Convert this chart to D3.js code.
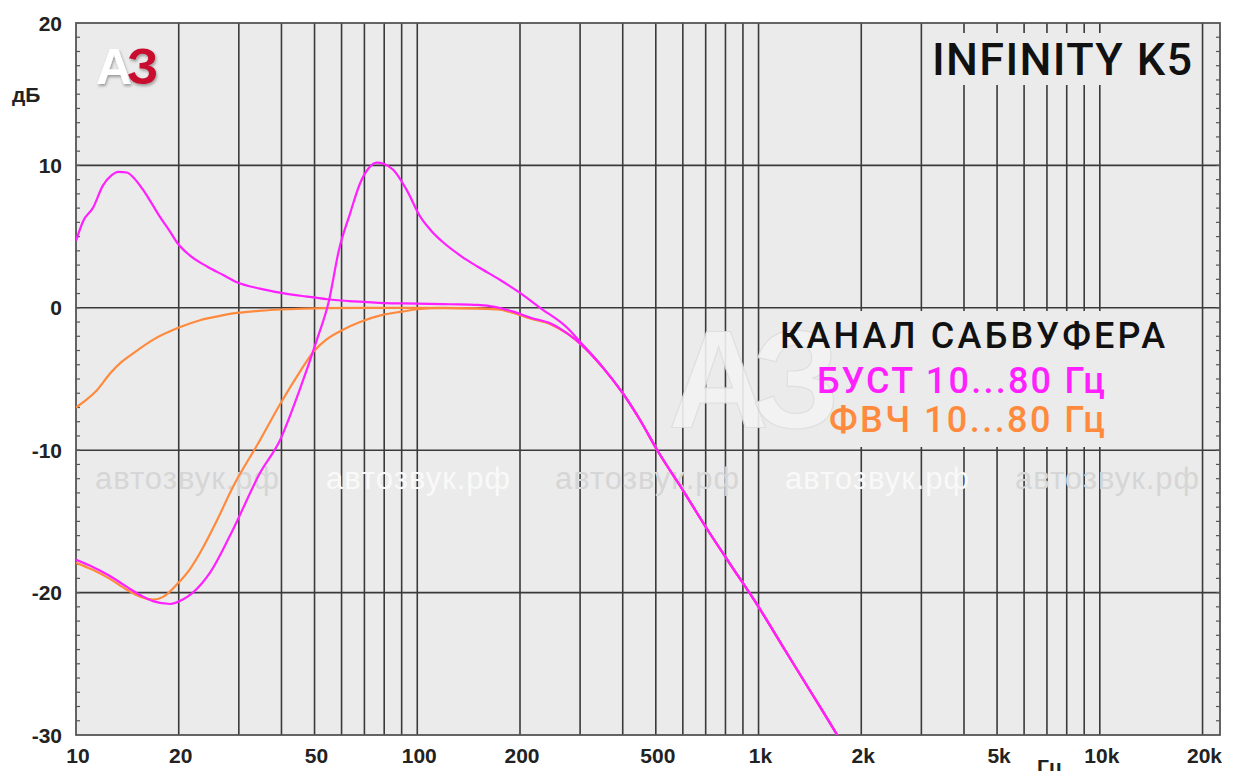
<!DOCTYPE html>
<html>
<head>
<meta charset="utf-8">
<script src="https://cdn.jsdelivr.net/npm/d3@7"></script>
<style>
  body { margin: 0; background: #fff; }
  svg { display: block; }
  .tick-label { font-family: "Liberation Sans", Arial, sans-serif; font-weight: bold; font-size: 21px; fill: #222; }
  .wm { font-family: "Liberation Sans", Arial, sans-serif; font-size: 31px; }
  .big { font-family: Roboto, "DejaVu Sans", sans-serif; font-weight: 500; }
</style>
</head>
<body>
<div id="chart"></div>
<script>
// --- data ---
var freqTicks = [10, 20, 50, 100, 200, 500, 1000, 2000, 5000, 10000, 20000];
var freqTickLabels = ["10", "20", "50", "100", "200", "500", "1k", "2k", "5k", "10k", "20k"];
var dbTicks = [-30, -20, -10, 0, 10, 20];

// common low-pass tail (all four curves merge here)
var tailFreq = [350, 400, 450, 505, 600, 705, 810, 1000, 1200, 1400, 1700, 1800];
var tailDb   = [-4.2, -6.0, -7.9, -10, -12.8, -15.5, -17.7, -21.0, -24.1, -26.7, -30.0, -31.0];

// БУСТ 10 Гц (magenta, peak near 13 Hz)
var boost10Freq = [10, 10.5, 11.2, 12, 12.7, 13.3, 14.1, 14.8, 15.6, 16.6, 17.6, 18.8, 19.9, 21.5, 24.2, 27, 29.6, 34.6, 40, 47, 54.5, 65, 80, 100, 125, 150, 170, 190, 215, 246, 275, 303];
var boost10Db   = [4.7, 6.1, 7.0, 8.6, 9.3, 9.55, 9.5, 9.1, 8.4, 7.4, 6.4, 5.4, 4.5, 3.7, 2.9, 2.3, 1.8, 1.35, 1.05, 0.8, 0.6, 0.45, 0.33, 0.3, 0.25, 0.2, 0.05, -0.25, -0.7, -1.1, -1.8, -2.6];

// БУСТ 80 Гц (magenta, peak near 76 Hz)
var boost80Freq = [10, 11.2, 12.5, 14.1, 15.5, 16.8, 18.9, 20.5, 22, 24.7, 28.8, 34.6, 39.6, 45, 50.8, 55, 59, 63.5, 68, 72, 76, 80, 85, 93, 102, 110, 119, 135, 150, 175, 200, 229, 275, 303];
var boost80Db   = [-17.7, -18.2, -18.8, -19.6, -20.2, -20.6, -20.8, -20.5, -20.0, -18.6, -15.6, -11.6, -9.3, -5.9, -2.25, 0.4, 4.1, 6.6, 8.75, 9.8, 10.2, 10.1, 9.7, 8.3, 6.4, 5.4, 4.6, 3.6, 2.9, 1.95, 1.05, 0.0, -1.4, -2.5];

// ФВЧ 10 Гц (orange)
var hpf10Freq = [10, 10.8, 11.5, 12.6, 13.6, 14.7, 16.8, 20.2, 23.1, 26, 29.6, 35, 40, 54, 70, 100, 150, 171, 200, 215, 246, 275, 303];
var hpf10Db   = [-7.0, -6.4, -5.8, -4.6, -3.8, -3.2, -2.25, -1.35, -0.87, -0.6, -0.36, -0.2, -0.12, -0.02, 0, 0, -0.05, -0.1, -0.5, -0.75, -1.15, -1.8, -2.6];

// ФВЧ 80 Гц (orange)
var hpf80Freq = [10, 11.2, 12.5, 14.1, 15.5, 16.8, 18, 19.8, 21.5, 23.1, 25.8, 28.8, 34.6, 40, 45, 50, 54, 61, 68, 79, 91, 100, 120, 150, 171, 200, 215, 246, 275, 303];
var hpf80Db   = [-17.9, -18.4, -19.0, -19.8, -20.3, -20.5, -20.3, -19.4, -18.4, -17.2, -15.0, -12.6, -9.3, -6.6, -4.6, -3.0, -2.25, -1.5, -1.0, -0.5, -0.25, -0.1, 0, -0.05, -0.1, -0.5, -0.75, -1.15, -1.8, -2.6];

var magenta = "#ff1fff";
var orange = "#ff8a3d";

function series(f, v) {
    var pts = f.map(function (d, i) { return {f: d, db: v[i]}; });
    tailFreq.forEach(function (d, i) {
        if (d > f[f.length - 1]) pts.push({f: d, db: tailDb[i]});
    });
    return pts;
}

var W = 1237, H = 771;
var plot = {left: 76, top: 23, right: 1220, bottom: 735};

var x = d3.scaleLog().domain([10, 22500]).range([plot.left, plot.right]);
var y = d3.scaleLinear().domain([-30, 20]).range([plot.bottom, plot.top]);

var svg = d3.select("#chart").append("svg")
    .attr("width", W)
    .attr("height", H);

var defs = svg.append("defs");
defs.append("clipPath").attr("id", "clip")
    .append("rect")
    .attr("x", plot.left).attr("y", plot.top)
    .attr("width", plot.right - plot.left).attr("height", plot.bottom - plot.top);
var sh = defs.append("filter").attr("id", "shadow").attr("x", "-20%").attr("y", "-20%").attr("width", "150%").attr("height", "150%");
sh.append("feDropShadow").attr("dx", 1).attr("dy", 2).attr("stdDeviation", 1.5).attr("flood-color", "#000").attr("flood-opacity", 0.35);

// plot background
svg.append("rect")
    .attr("x", plot.left).attr("y", plot.top)
    .attr("width", plot.right - plot.left).attr("height", plot.bottom - plot.top)
    .attr("fill", "#ebebeb");

// vertical grid: every 1-2-3...9 of each decade
var vGrid = [];
[10, 100, 1000, 10000].forEach(function (dec) {
    for (var k = 1; k <= 9; k++) {
        var f = dec * k;
        if (f > 10 && f <= 20000) vGrid.push(f);
    }
});

svg.append("g").selectAll("line")
    .data(vGrid)
    .enter().append("line")
    .attr("x1", function (d) { return x(d); })
    .attr("x2", function (d) { return x(d); })
    .attr("y1", plot.top)
    .attr("y2", plot.bottom)
    .attr("stroke", "#3a3a3a")
    .attr("stroke-width", 1.6);

svg.append("g").selectAll("line")
    .data([-20, -10, 0, 10])
    .enter().append("line")
    .attr("x1", plot.left)
    .attr("x2", plot.right)
    .attr("y1", function (d) { return y(d); })
    .attr("y2", function (d) { return y(d); })
    .attr("stroke", "#3a3a3a")
    .attr("stroke-width", 1.6);

// boxes behind title and legend text hide the grid
svg.append("rect").attr("x", 926).attr("y", 33).attr("width", 272).attr("height", 52).attr("fill", "#ebebeb");
svg.append("rect").attr("x", 772).attr("y", 311).attr("width", 398).attr("height", 136).attr("fill", "#ebebeb");

// minor dB ticks on left and right border
var minor = d3.range(-29, 20);
svg.append("g").selectAll("line")
    .data(minor)
    .enter().append("line")
    .attr("x1", plot.left).attr("x2", plot.left + 4)
    .attr("y1", function (d) { return y(d); })
    .attr("y2", function (d) { return y(d); })
    .attr("stroke", "#555").attr("stroke-width", 1.2);
svg.append("g").selectAll("line")
    .data(minor)
    .enter().append("line")
    .attr("x1", plot.right - 4).attr("x2", plot.right)
    .attr("y1", function (d) { return y(d); })
    .attr("y2", function (d) { return y(d); })
    .attr("stroke", "#555").attr("stroke-width", 1.2);

// frame
svg.append("rect")
    .attr("x", plot.left).attr("y", plot.top)
    .attr("width", plot.right - plot.left).attr("height", plot.bottom - plot.top)
    .attr("fill", "none")
    .attr("stroke", "#555")
    .attr("stroke-width", 1.8);

// watermarks
var wmX = [95, 326, 555, 785, 1015];
svg.append("g").selectAll("text")
    .data(wmX)
    .enter().append("text")
    .attr("class", "wm")
    .attr("x", function (d) { return d; })
    .attr("y", 489)
    .attr("textLength", 184)
    .attr("fill", function (d, i) { return i % 2 === 0 ? "#d6d6d6" : "#f9f9f9"; })
    .text("автозвук.рф");

svg.append("text")
    .attr("x", 668).attr("y", 428)
    .attr("font-family", "Liberation Sans, Arial, sans-serif")
    .attr("font-weight", "bold")
    .attr("font-size", 140)
    .attr("textLength", 172)
    .attr("fill", "#f3f3f3")
    .attr("stroke", "#dedede")
    .attr("stroke-width", 1.2)
    .attr("opacity", 0.9)
    .text("АЗ");

// logo
var logo = svg.append("g").attr("font-family", "Liberation Sans, Arial, sans-serif").attr("font-weight", "bold").attr("font-size", 50);
logo.append("text").attr("x", 96).attr("y", 84).attr("fill", "#fff").attr("filter", "url(#shadow)").text("А");
logo.append("text").attr("x", 127).attr("y", 84).attr("fill", "#c8102e").attr("filter", "url(#shadow)").text("З");

// curves
var line = d3.line()
    .x(function (d) { return x(d.f); })
    .y(function (d) { return y(d.db); })
    .curve(d3.curveMonotoneX);

var curves = [
    {pts: series(hpf10Freq, hpf10Db), color: orange},
    {pts: series(hpf80Freq, hpf80Db), color: orange},
    {pts: series(boost10Freq, boost10Db), color: magenta},
    {pts: series(boost80Freq, boost80Db), color: magenta}
];

svg.append("g").attr("clip-path", "url(#clip)")
    .selectAll("path")
    .data(curves)
    .enter().append("path")
    .attr("d", function (d) { return line(d.pts); })
    .attr("fill", "none")
    .attr("stroke", function (d) { return d.color; })
    .attr("stroke-width", 2.2)
    .attr("stroke-linejoin", "round");

// axis labels
svg.append("g").selectAll("text")
    .data(dbTicks)
    .enter().append("text")
    .attr("class", "tick-label")
    .attr("x", 62)
    .attr("y", function (d) { return y(d); })
    .attr("dy", "0.36em")
    .attr("text-anchor", "end")
    .text(function (d) { return d; });

svg.append("g").selectAll("text")
    .data(freqTicks)
    .enter().append("text")
    .attr("class", "tick-label")
    .attr("x", function (d) { return x(d) + 2; })
    .attr("y", 763)
    .attr("text-anchor", "middle")
    .text(function (d, i) { return freqTickLabels[i]; });

svg.append("text").attr("class", "tick-label").attr("x", 12).attr("y", 102).attr("font-size", 19).text("дБ");
svg.append("text").attr("class", "tick-label").attr("x", 1037).attr("y", 774).text("Гц");

// title and legend
svg.append("text").attr("class", "big")
    .attr("x", 932).attr("y", 75)
    .attr("font-size", 45).attr("textLength", 260)
    .attr("fill", "#111")
    .text("INFINITY K5");

svg.append("text").attr("class", "big")
    .attr("x", 780).attr("y", 348)
    .attr("font-size", 36).attr("textLength", 385)
    .attr("fill", "#111")
    .text("КАНАЛ САБВУФЕРА");
svg.append("text").attr("class", "big")
    .attr("x", 817).attr("y", 393)
    .attr("font-size", 36).attr("textLength", 288)
    .attr("fill", magenta)
    .text("БУСТ 10...80 Гц");
svg.append("text").attr("class", "big")
    .attr("x", 829).attr("y", 432)
    .attr("font-size", 36).attr("textLength", 276)
    .attr("fill", orange)
    .text("ФВЧ 10...80 Гц");
</script>
</body>
</html>
